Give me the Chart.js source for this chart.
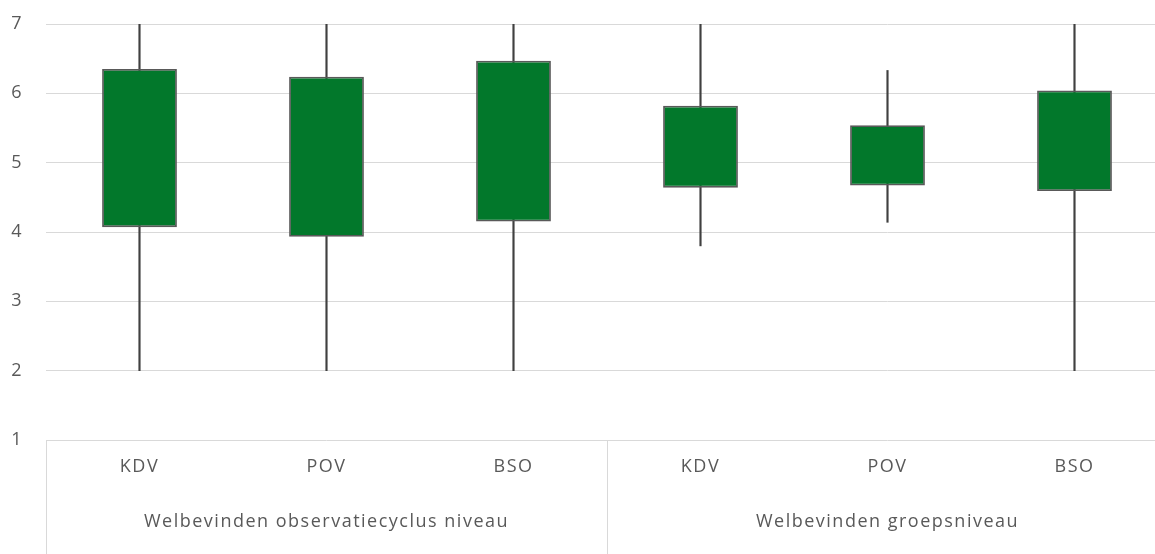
<!DOCTYPE html>
<html>
<head>
<meta charset="utf-8">
<script src="https://cdn.jsdelivr.net/npm/chart.js@4/dist/chart.umd.min.js"></script>
<style>
  html, body { margin: 0; padding: 0; background: #ffffff; overflow: hidden; }
  #wrap { width: 1170px; height: 554px; position: relative; }
</style>
</head>
<body>
<div id="wrap"><canvas id="c"></canvas></div>
<script>
const groups = ['Welbevinden observatiecyclus niveau', 'Welbevinden groepsniveau'];
const categories = ['KDV', 'POV', 'BSO', 'KDV', 'POV', 'BSO'];
const groupSizes = [3, 3];
const minVals = [2, 2, 2, 3.8, 4.14, 2];
const q1Vals  = [4.07, 3.93, 4.15, 4.64, 4.67, 4.59];
const q3Vals  = [6.35, 6.24, 6.47, 5.82, 5.54, 6.04];
const maxVals = [7, 7, 7, 7, 6.33, 7];
const yTicks = [1, 2, 3, 4, 5, 6, 7];

const TEXT = '#595959';
const GRID = '#d9d9d9';
const FONT = { family: 'Open Sans', size: 18 };

const spacingPlugin = {
  id: 'spacing',
  beforeUpdate(chart) { chart.ctx.letterSpacing = '1.5px'; },
  beforeDraw(chart) { chart.ctx.letterSpacing = '1.5px'; }
};

const dividerPlugin = {
  id: 'dividers',
  afterDraw(chart) {
    const x = chart.scales.x;
    const area = chart.chartArea;
    const ctx = chart.ctx;
    const xs = [area.left];
    let idx = 0;
    for (let g = 0; g < groupSizes.length; g++) {
      idx += groupSizes[g];
      if (idx < categories.length) {
        xs.push((x.getPixelForValue(idx - 1) + x.getPixelForValue(idx)) / 2);
      } else {
        xs.push(area.right);
      }
    }
    ctx.save();
    ctx.strokeStyle = GRID;
    ctx.lineWidth = 1;
    xs.forEach(px => {
      const p = Math.round(px) + 0.5;
      ctx.beginPath();
      ctx.moveTo(p, area.bottom);
      ctx.lineTo(p, chart.height);
      ctx.stroke();
    });
    ctx.restore();
  }
};

new Chart(document.getElementById('c'), {
  type: 'bar',
  data: {
    labels: categories,
    datasets: [
      {
        label: 'box',
        data: q1Vals.map((v, i) => [v, q3Vals[i]]),
        backgroundColor: '#02782b',
        borderColor: '#595959',
        borderWidth: 1.8,
        borderSkipped: false,
        grouped: false,
        categoryPercentage: 1,
        barPercentage: 0.40
      },
      {
        label: 'whisker',
        data: minVals.map((v, i) => [v, maxVals[i]]),
        backgroundColor: '#404040',
        borderWidth: 0,
        grouped: false,
        barThickness: 1.5
      }
    ]
  },
  options: {
    responsive: true,
    maintainAspectRatio: false,
    animation: false,
    layout: { padding: { top: 24, left: 0, right: 2, bottom: 22 } },
    plugins: { legend: { display: false }, tooltip: { enabled: false } },
    scales: {
      y: {
        min: 1,
        max: 7,
        afterBuildTicks(scale) { scale.ticks = yTicks.map(v => ({ value: v })); },
        afterFit(scale) { scale.width = 46; scale.paddingTop = 0; scale.paddingBottom = 0; },
        ticks: { color: TEXT, font: FONT, padding: 23 },
        grid: { color: GRID, drawTicks: false, lineWidth: 1 },
        border: { display: false }
      },
      x: {
        type: 'category',
        labels: categories,
        offset: true,
        afterFit(scale) { scale.height = 38; },
        ticks: { color: TEXT, font: FONT, padding: 16, maxRotation: 0, autoSkip: false },
        grid: { display: false, drawTicks: false },
        border: { display: false }
      },
      xg: {
        type: 'category',
        labels: groups,
        position: 'bottom',
        offset: true,
        afterFit(scale) { scale.height = 54; },
        ticks: { color: TEXT, font: FONT, padding: 33, maxRotation: 0, autoSkip: false },
        grid: { display: false, drawTicks: false },
        border: { display: false }
      }
    }
  },
  plugins: [spacingPlugin, dividerPlugin]
});
</script>
</body>
</html>
